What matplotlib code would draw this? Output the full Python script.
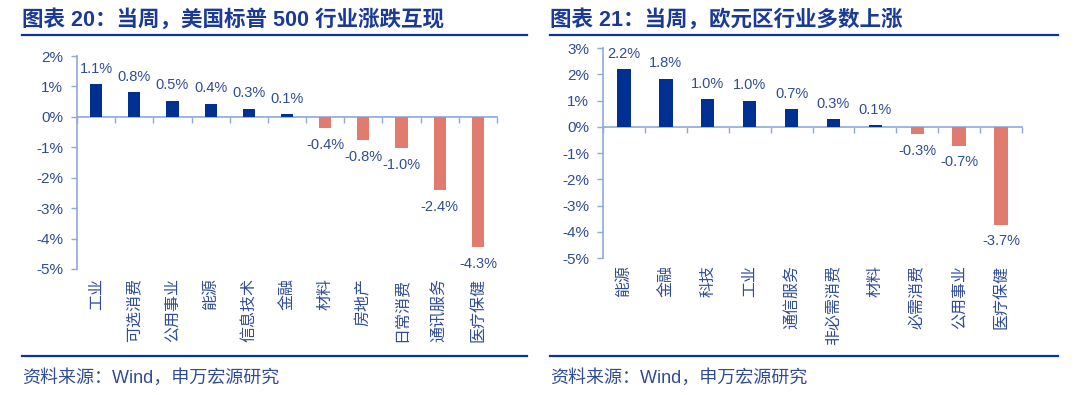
import matplotlib.pyplot as plt
import numpy as np
from matplotlib.ticker import FixedLocator, FuncFormatter

# fonts: latin first, CJK fallback
FONT = ['Liberation Sans', 'Noto Sans CJK SC', 'DejaVu Sans']
plt.rcParams['font.family'] = FONT

# ---- data ----
us_title = '图表 20：当周，美国标普 500 行业涨跌互现'
us_sectors = ['工业', '可选消费', '公用事业', '能源', '信息技术', '金融',
              '材料', '房地产', '日常消费', '通讯服务', '医疗保健']
us_change = [1.07, 0.82, 0.53, 0.43, 0.27, 0.08,
             -0.37, -0.76, -1.03, -2.42, -4.27]

eu_title = '图表 21：当周，欧元区行业多数上涨'
eu_sectors = ['能源', '金融', '科技', '工业', '通信服务', '非必需消费',
              '材料', '必需消费', '公用事业', '医疗保健']
eu_change = [2.19, 1.83, 1.04, 0.99, 0.67, 0.28, 0.07, -0.28, -0.72, -3.73]

source = '资料来源：Wind，申万宏源研究'

# ---- style ----
up_color = '#003091'
down_color = '#E07B6E'
text_color = '#2F4C95'
title_color = '#1A3A96'
rule_color = '#0A35A0'
axis_color = '#8EA9DA'

fig = plt.figure(figsize=(10.8, 3.95), dpi=100)


def px(x, y):
    # pixel position (top-left origin) -> figure fraction
    return x / 1080, 1 - y / 395


def draw_panel(rect, names, values, ylim, label_pad):
    ax = fig.add_axes(rect)
    x = np.arange(len(values))
    colors = [up_color if v >= 0 else down_color for v in values]
    ax.bar(x, values, width=0.32, color=colors, zorder=3)

    for xi, v in zip(x, values):
        off = 6 if v >= 0 else -7
        ax.annotate('{:.1f}%'.format(v), (xi, v), xytext=(0, off),
                    textcoords='offset points', ha='center',
                    va='bottom' if v >= 0 else 'top',
                    fontsize=10.5, color=text_color)

    ax.set_xlim(-0.5, len(values) - 0.5)
    ax.set_ylim(ylim)
    ax.yaxis.set_major_locator(FixedLocator(range(ylim[0], ylim[1] + 1)))
    ax.yaxis.set_major_formatter(FuncFormatter(lambda v, p: '{:.0f}%'.format(v)))

    for s in ['top', 'right']:
        ax.spines[s].set_visible(False)
    ax.spines['bottom'].set_position(('data', 0))
    ax.spines['left'].set_color(axis_color)
    ax.spines['bottom'].set_color(axis_color)
    ax.spines['left'].set_linewidth(1.2)
    ax.spines['bottom'].set_linewidth(1.2)

    ax.set_xticks([])
    ax.xaxis.set_minor_locator(FixedLocator(np.arange(-0.5, len(values), 1.0)))
    ax.tick_params(axis='x', which='minor', length=4, color=axis_color, width=1)
    ax.tick_params(axis='y', length=4, color=axis_color, width=1,
                   labelsize=11, labelcolor=text_color, pad=6)

    for xi, name in zip(x, names):
        ax.text(xi, -label_pad, name, transform=ax.get_xaxis_transform(),
                rotation=90, ha='center', va='top', fontsize=11.5,
                color=text_color)
    return ax


draw_panel([77 / 1080, 1 - 269 / 395, 420 / 1080, 213 / 395],
           us_sectors, us_change, (-5, 2), 0.04)
draw_panel([603 / 1080, 1 - 258 / 395, 419 / 1080, 210 / 395],
           eu_sectors, eu_change, (-5, 3), 0.035)

# titles, rules and source notes
for x0, x1, title in [(22, 527, us_title), (550, 1058, eu_title)]:
    fig.text(*px(x0, 20), title, ha='left', va='center', fontsize=15.5,
             fontweight='bold', color=title_color)
    fig.add_artist(plt.Line2D([x0 / 1080, x1 / 1080], [1 - 35 / 395] * 2,
                              color=rule_color, linewidth=1.6))
    fig.add_artist(plt.Line2D([x0 / 1080, x1 / 1080], [1 - 356 / 395] * 2,
                              color=rule_color, linewidth=1.6))
    fig.text(*px(x0, 378), source, ha='left', va='center', fontsize=13,
             color=text_color)

fig.savefig('out.png', dpi=100)
